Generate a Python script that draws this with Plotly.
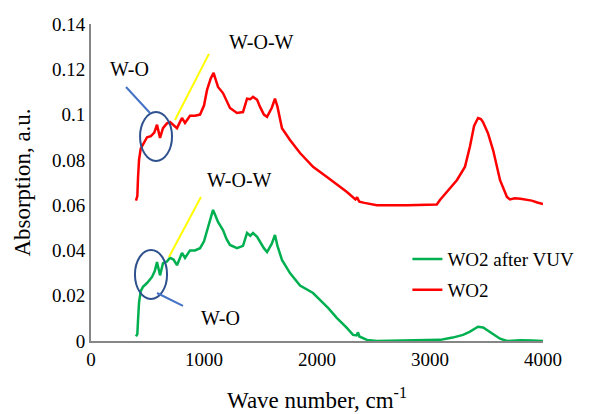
import plotly.graph_objects as go

# ---------------- data ----------------
wo2_wn = [398, 410, 416, 425, 440, 455, 470, 496, 530, 560, 584, 611, 637, 670, 699, 730, 761,
          790, 805, 832, 876, 920, 965, 1000, 1027, 1060, 1085, 1100, 1124, 1168, 1200, 1230,
          1292, 1345, 1381, 1410, 1434, 1470, 1496, 1530, 1558, 1600, 1628, 1650, 1690, 1761,
          1850, 1965, 2100, 2265, 2340, 2355, 2363, 2375, 2420, 2530, 2800, 3060, 3088, 3150,
          3239, 3310, 3354, 3390, 3425, 3450, 3469, 3513, 3560, 3620, 3681, 3708, 3750, 3800,
          3850, 3900, 3950, 4000]
wo2_abs = [0.062, 0.064, 0.072, 0.080, 0.085, 0.0865, 0.088, 0.090, 0.0905, 0.092, 0.0955,
           0.0897, 0.094, 0.096, 0.0967, 0.0955, 0.094, 0.097, 0.0985, 0.0963, 0.0995, 0.0995,
           0.100, 0.104, 0.1109, 0.116, 0.1184, 0.116, 0.1122, 0.1095, 0.106, 0.1029, 0.1007,
           0.1011, 0.107, 0.1068, 0.1078, 0.1065, 0.1034, 0.100, 0.099, 0.103, 0.107, 0.1035,
           0.094, 0.0888, 0.083, 0.0769, 0.072, 0.0658, 0.0625, 0.0635, 0.0625, 0.0615, 0.061,
           0.060, 0.060, 0.0603, 0.0623, 0.0658, 0.0711, 0.077, 0.086, 0.095, 0.0985, 0.098,
           0.0967, 0.0918, 0.084, 0.071, 0.0636, 0.0625, 0.063, 0.0628, 0.0625, 0.062, 0.0612,
           0.0605]

vuv_wn = [398, 410, 416, 425, 440, 460, 496, 540, 565, 584, 611, 637, 670, 699, 730, 761, 790,
          805, 832, 876, 920, 965, 1000, 1027, 1060, 1080, 1100, 1124, 1168, 1200, 1230, 1292,
          1345, 1381, 1410, 1434, 1470, 1496, 1530, 1558, 1600, 1628, 1650, 1690, 1761, 1850,
          1965, 2100, 2177, 2260, 2319, 2350, 2363, 2375, 2442, 2530, 3088, 3200, 3292, 3350,
          3425, 3470, 3540, 3620, 3681, 3800, 3900, 4000]
vuv_abs = [0.002, 0.003, 0.009, 0.017, 0.022, 0.0239, 0.0256, 0.0283, 0.031, 0.0349, 0.029,
           0.0344, 0.035, 0.0367, 0.036, 0.0335, 0.037, 0.0389, 0.0367, 0.040, 0.040, 0.041,
           0.044, 0.049, 0.055, 0.0579, 0.0555, 0.0526, 0.049, 0.045, 0.0424, 0.041, 0.042,
           0.0477, 0.0465, 0.0477, 0.046, 0.0437, 0.041, 0.0393, 0.043, 0.0468, 0.042, 0.0358,
           0.030, 0.0245, 0.0212, 0.0145, 0.0101, 0.006, 0.0027, 0.0025, 0.0038, 0.002, 0.0005,
           0.0, 0.0005, 0.0015, 0.0027, 0.004, 0.0063, 0.006, 0.0035, 0.001, 0.0, 0.0003,
           0.0002, 0.0]

x_ticks = [0, 1000, 2000, 3000, 4000]
y_ticks = [0, 0.02, 0.04, 0.06, 0.08, 0.10, 0.12, 0.14]
y_tick_labels = ["0", "0.02", "0.04", "0.06", "0.08", "0.1", "0.12", "0.14"]

FONT = "Liberation Serif"

fig = go.Figure()
fig.add_trace(go.Scatter(x=vuv_wn, y=vuv_abs, mode="lines", name="WO2 after VUV",
                         line=dict(color="#00B050", width=2.5), legend="legend"))
fig.add_trace(go.Scatter(x=wo2_wn, y=wo2_abs, mode="lines", name="WO2",
                         line=dict(color="#FF0000", width=2.5), legend="legend2"))

shapes = [
    # WO2 markers
    dict(type="circle", xref="x", yref="y", x0=434, x1=717, y0=0.0795, y1=0.1011,
         line=dict(color="#2F528F", width=2)),
    dict(type="line", xref="x", yref="y", x0=310, y0=0.1122, x1=522, y1=0.1007,
         line=dict(color="#4472C4", width=2)),
    dict(type="line", xref="x", yref="y", x0=743, y0=0.0976, x1=1044, y1=0.1268,
         line=dict(color="#FFFF00", width=2)),
    # WO2 after VUV markers
    dict(type="circle", xref="x", yref="y", x0=389, x1=673, y0=0.0186, y1=0.0402,
         line=dict(color="#2F528F", width=2)),
    dict(type="line", xref="x", yref="y", x0=584, y0=0.0212, x1=814, y1=0.0155,
         line=dict(color="#4472C4", width=2)),
    dict(type="line", xref="x", yref="y", x0=690, y0=0.0371, x1=973, y1=0.0636,
         line=dict(color="#FFFF00", width=2)),
]

ann_font = dict(family=FONT, size=20, color="black")
annotations = [
    dict(x=345, y=0.120, text="W-O"),
    dict(x=1513, y=0.132, text="W-O-W"),
    dict(x=1150, y=0.0102, text="W-O"),
    dict(x=1310, y=0.0711, text="W-O-W"),
]
annotations = [dict(a, xref="x", yref="y", showarrow=False, font=ann_font,
                    xanchor="center", yanchor="middle") for a in annotations]

# page body has an 8px margin: figure sized so the plot area lands where the reference has it
fig.update_layout(
    width=581, height=406,
    margin=dict(l=83, r=46, t=16, b=73, autoexpand=False),
    paper_bgcolor="white", plot_bgcolor="white",
    font=dict(family=FONT, size=19, color="black"),
    shapes=shapes, annotations=annotations,
    showlegend=True,
    legend=dict(x=0.700, y=0.258, xanchor="left", yanchor="middle", bgcolor="rgba(0,0,0,0)",
                font=dict(family=FONT, size=19)),
    legend2=dict(x=0.700, y=0.161, xanchor="left", yanchor="middle", bgcolor="rgba(0,0,0,0)",
                 font=dict(family=FONT, size=19)),
)
fig.update_xaxes(range=[0, 4000], tickvals=x_ticks, showgrid=False, zeroline=False,
                 showline=True, linecolor="#868686", linewidth=2, ticks="",
                 tickfont=dict(family=FONT, size=19),
                 title=dict(text="Wave number, cm<sup>-1</sup>", font=dict(family=FONT, size=23),
                            standoff=23))
fig.update_yaxes(range=[0, 0.14], tickvals=y_ticks, ticktext=y_tick_labels, showgrid=False,
                 zeroline=False, showline=True, linecolor="#868686", linewidth=2, ticks="",
                 tickfont=dict(family=FONT, size=19),
                 title=dict(text="Absorption, a.u.", font=dict(family=FONT, size=23),
                            standoff=15))

fig.write_html("out.html")
